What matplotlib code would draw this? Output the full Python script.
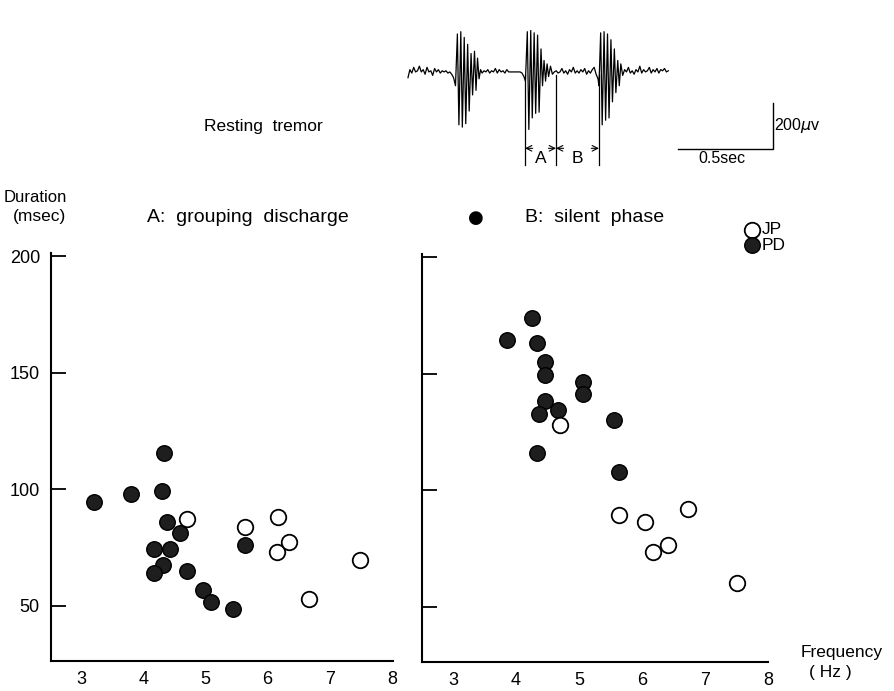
import numpy as np
import matplotlib.pyplot as plt

plt.rcParams['font.family'] = ['Liberation Sans', 'DejaVu Sans']

# tremor frequency (Hz) and duration (msec), A: grouping discharge
a_pd_freq = [3.21, 3.80, 4.33, 4.30, 4.38, 4.59, 4.17, 4.43, 4.32, 4.17, 4.70, 4.96, 5.09, 5.45, 5.64]
a_pd_dur = [94.5, 98.0, 115.6, 99.3, 86.2, 81.2, 74.3, 74.6, 67.5, 64.1, 65.1, 56.8, 51.9, 48.7, 76.0]
a_jp_freq = [4.70, 5.64, 6.16, 6.15, 6.35, 6.66, 7.49]
a_jp_dur = [87.1, 83.8, 88.1, 73.0, 77.2, 53.0, 69.8]

# B: silent phase
b_pd_freq = [4.26, 3.86, 4.34, 4.46, 4.46, 5.06, 5.06, 4.46, 4.67, 4.37, 5.56, 4.34, 5.63]
b_pd_dur = [173.8, 164.5, 163.0, 154.8, 149.4, 146.4, 141.2, 138.3, 134.5, 132.5, 130.0, 116.0, 108.0]
b_jp_freq = [4.70, 5.63, 6.05, 6.73, 6.41, 6.17, 7.51]
b_jp_dur = [128.2, 89.6, 86.6, 92.0, 76.4, 73.4, 60.2]

freq_ticks = [3, 4, 5, 6, 7, 8]
dur_ticks = [50, 100, 150, 200]

# EMG sample of the resting tremor (msec, microvolt)
emg_t = [0, 10, 20, 30, 40, 50, 60, 70, 80, 90, 100, 110, 120, 130, 140, 150, 160, 170, 180, 190,
         200, 210, 220, 230, 240,
         250, 260, 268, 278, 286, 296, 304, 314, 322, 332, 340, 350, 358, 366, 374, 382,
         390, 400, 410, 420, 430, 440, 450, 460, 470, 480, 490, 500, 510, 520, 530, 540, 550, 560,
         570, 580, 590, 600, 610,
         618, 628, 636, 646, 654, 664, 672, 682, 690, 700, 708, 716, 724, 732, 740, 750,
         760, 770,
         780, 790, 800, 810, 820, 830, 840, 850, 860, 870, 880, 890, 900, 910, 920, 930, 940, 950,
         960, 970, 980, 990, 1000,
         1005, 1014, 1022, 1032, 1040, 1050, 1058, 1068, 1076, 1086, 1094, 1104, 1112,
         1120, 1130,
         1140, 1150, 1160, 1170, 1180, 1190, 1200, 1210, 1220, 1230, 1240, 1250, 1260, 1270, 1280,
         1290, 1300, 1310, 1320, 1330, 1340, 1350, 1360, 1370]
emg_v = [-25, 10, -5, 20, 0, 5, 25, 0, 10, -10, 20, 0, 5, -15, 15, 0, 10, -5, 5, 0,
         5, -5, 0, -10, -25,
         -60, 165, -230, 175, -240, 150, -225, 120, -170, 80, -100, 90, -80, 60, -30, 10,
         -5, 5, 0, 10, -5, 5, 0, 15, -5, 10, 0, 5, -5, 10, 0, 0, 0, 0,
         0, 0, 0, -5, -20,
         -40, 175, -250, 180, -200, 170, -180, 160, -175, 100, -60, 50, -40, 35, -20, 25,
         -10, 0,
         5, -5, 0, 15, -5, 5, -10, 10, 0, 20, -5, 5, -5, 10, 0, 15, -10, 5,
         -5, 10, 20, -10, -30,
         -60, 170, -230, 175, -210, 165, -200, 140, -130, 100, -90, 50, -60,
         35, -15,
         10, 0, 20, -5, 5, -10, 10, 0, 25, -5, 10, 0, 5, 20, -5,
         10, 0, 15, -5, 10, 5, 15, 0, 5]

# phase markers (msec): start of A, end of A / start of B, end of B
phase_marks = [616, 779, 1005]

fig = plt.figure(figsize=(8.94, 6.91), dpi=100)

# --- trace inset ---
tr = fig.add_axes([400 / 894, 1 - 175 / 691, 400 / 894, 150 / 691])
tr.plot(emg_t, emg_v, color='black', lw=0.9)
for m in phase_marks:
    tr.plot([m, m], [-15, -405], color='black', lw=0.9)
for (lo, hi), lab in zip([(phase_marks[0], phase_marks[1]), (phase_marks[1], phase_marks[2])], ['A', 'B']):
    mid = (lo + hi) / 2
    tr.annotate('', xy=(lo, -332), xytext=(lo + 40, -332),
                arrowprops=dict(arrowstyle='->', lw=0.8, color='black', shrinkA=0, shrinkB=0))
    tr.annotate('', xy=(hi, -332), xytext=(hi - 40, -332),
                arrowprops=dict(arrowstyle='->', lw=0.8, color='black', shrinkA=0, shrinkB=0))
    tr.text(mid, -378, lab, ha='center', va='center', fontsize=12.5)
# scale bar: 200 uV, 0.5 sec
tr.plot([1421, 1921, 1921], [-335, -335, -135], color='black', lw=1.0)
tr.text(1928, -235, '200$\\mu$v', ha='left', va='center', fontsize=11.5)
tr.text(1650, -376, '0.5sec', ha='center', va='center', fontsize=11.5)
tr.set_xlim(-42, 2063)
tr.set_ylim(-448, 204)
tr.axis('off')

fig.text(263 / 894, 1 - 127 / 691, 'Resting  tremor', ha='center', va='center', fontsize=12.5)


def style_panel(ax, labels):
    ax.spines['top'].set_visible(False)
    ax.spines['right'].set_visible(False)
    ax.spines['left'].set_linewidth(1.5)
    ax.spines['bottom'].set_linewidth(1.5)
    ax.set_ylim(26.4, 201.3)
    ax.set_xticks(freq_ticks)
    ax.set_yticks(dur_ticks)
    ax.tick_params(axis='x', length=0, pad=7, labelsize=13)
    ax.tick_params(axis='y', direction='in', length=11, width=1.3, pad=8, labelsize=13)
    if not labels:
        ax.set_yticklabels([])


def draw_groups(ax, pd_f, pd_d, jp_f, jp_d):
    ax.scatter(pd_f, pd_d, s=125, facecolor='#1e1e1e', edgecolor='black', linewidths=1.0,
               zorder=3, clip_on=False)
    ax.scatter(jp_f, jp_d, s=125, facecolor='white', edgecolor='black', linewidths=1.3,
               zorder=3, clip_on=False)


# --- A: grouping discharge ---
ax1 = fig.add_axes([51 / 894, 30 / 691, 342 / 894, 408 / 691])
draw_groups(ax1, a_pd_freq, a_pd_dur, a_jp_freq, a_jp_dur)
ax1.set_xlim(2.518, 8.016)
style_panel(ax1, True)

# --- B: silent phase ---
ax2 = fig.add_axes([422 / 894, 29 / 691, 346 / 894, 408 / 691])
draw_groups(ax2, b_pd_freq, b_pd_dur, b_jp_freq, b_jp_dur)
ax2.set_xlim(2.508, 8.0)
style_panel(ax2, False)

fig.text(147 / 894, 1 - 217 / 691, 'A:  grouping  discharge', ha='left', va='center', fontsize=14)
fig.text(525 / 894, 1 - 217 / 691, 'B:  silent  phase', ha='left', va='center', fontsize=14)
fig.text(476 / 894, 1 - 218 / 691, '\u25cf', ha='center', va='center', fontsize=13,
         family=['DejaVu Sans'])
fig.text(35 / 894, 1 - 198 / 691, 'Duration', ha='center', va='center', fontsize=12)
fig.text(40 / 894, 1 - 216 / 691, '(msec)', ha='center', va='center', fontsize=12.5)
fig.text(842 / 894, 1 - 652 / 691, 'Frequency', ha='center', va='center', fontsize=12.5)
fig.text(830 / 894, 1 - 673 / 691, '( Hz )', ha='center', va='center', fontsize=12.5)

# legend
ax2.scatter([7.75], [211.6], s=125, facecolor='white', edgecolor='black', linewidths=1.3,
            clip_on=False, zorder=3)
ax2.scatter([7.75], [205.1], s=125, facecolor='#1e1e1e', edgecolor='black', linewidths=1.0,
            clip_on=False, zorder=3)
fig.text(762 / 894, 1 - 230 / 691, 'JP', ha='left', va='center', fontsize=12.5)
fig.text(762 / 894, 1 - 245 / 691, 'PD', ha='left', va='center', fontsize=12.5)

fig.savefig('out.png', dpi=100)
